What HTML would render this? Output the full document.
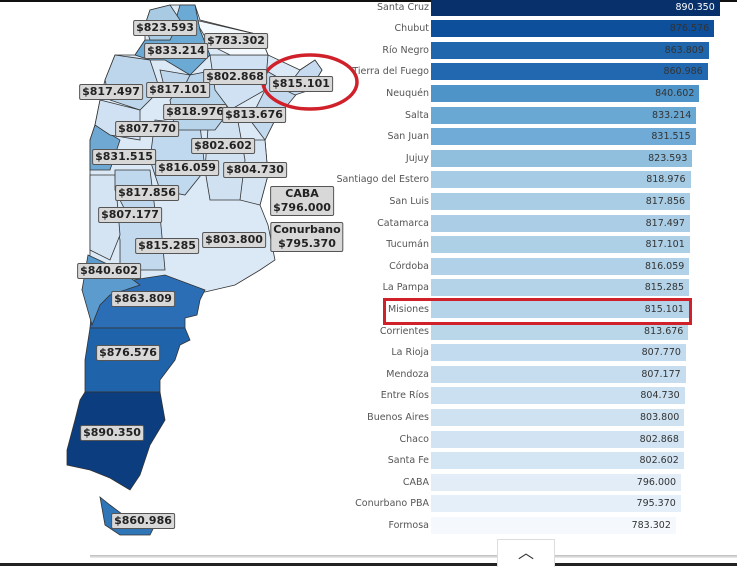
<!DOCTYPE html>
<html><head><meta charset="utf-8"><style>
body{margin:0;width:737px;height:566px;overflow:hidden;background:#fff;font-family:"DejaVu Sans","Liberation Sans",sans-serif;position:relative}
.lb{position:absolute;background:#d8d8d8;border:1.5px solid #555;border-radius:2px;font-weight:bold;font-size:11px;color:#222;padding:0 2px;line-height:14px;text-align:center;transform:translate(-50%,-50%);white-space:nowrap}
.nm{position:absolute;width:120px;text-align:right;font-size:9.5px;color:#555;line-height:17px}
.bar{position:absolute;left:431px;height:17px}
.val{position:absolute;font-size:9.5px;line-height:17px;color:#333;text-align:right}
</style></head><body>
<div style="position:absolute;left:0;top:0;width:737px;height:2px;background:#111"></div>
<svg width="737" height="566" style="position:absolute;left:0;top:0" stroke="#333" stroke-width="0.8">
<polygon fill="#dbe9f6" points="150,10 170,5 195,5 200,20 260,35 268,55 300,70 315,60 322,70 310,90 285,95 275,120 265,140 268,175 260,205 268,225 275,260 260,270 235,285 205,292 90,292 82,290 90,255 90,175 90,140 95,125 100,100 105,80 115,55 135,55 145,40 145,25"/>
<polygon fill="#c3d9ee" points="115,215 160,215 165,270 120,270 120,240"/>
<polygon fill="#d4e4f3" points="90,175 115,175 120,235 110,260 90,250"/>
<polygon fill="#bfd8ed" points="115,170 150,170 155,210 125,210 115,190"/>
<polygon fill="#d5e5f4" points="240,140 265,140 268,175 260,205 240,200"/>
<polygon fill="#d0e1f2" points="210,100 235,105 245,160 240,200 210,200 205,170"/>
<polygon fill="#c1d9ee" points="155,120 200,125 205,170 185,195 160,190 150,160"/>
<polygon fill="#6fa9d3" points="95,125 120,140 110,170 90,170 90,140"/>
<polygon fill="#cfe1f2" points="100,100 140,110 140,140 110,135 95,125"/>
<polygon fill="#b8d4ea" points="190,75 215,70 230,110 215,130 175,130 170,100"/>
<polygon fill="#bdd6ec" points="160,70 190,75 180,95 165,90"/>
<polygon fill="#bdd6ec" points="115,55 150,60 160,90 140,110 110,100 105,80"/>
<polygon fill="#c3d9ee" points="265,70 300,90 275,120 265,140 250,120 265,90"/>
<polygon fill="#c6dbef" points="300,70 315,60 322,70 310,90 295,95 285,90"/>
<polygon fill="#cfe1f2" points="210,55 268,55 265,90 230,110 215,90"/>
<polygon fill="#f4f9fe" points="195,20 260,35 268,55 230,55 210,45"/>
<polygon fill="#6aaad5" points="180,5 195,5 200,30 210,55 190,75 165,60 150,60 135,55 145,40 170,40"/>
<polygon fill="#a8cbe3" points="150,10 170,5 180,20 170,40 150,40 145,25"/>
<polygon fill="#2b6eb5" points="100,285 165,275 205,290 200,300 197,315 185,318 185,328 90,328 92,305"/>
<polygon fill="#5b9bcd" points="88,255 120,270 140,285 110,295 100,305 92,325 82,290"/>
<polygon fill="#1f63ab" points="90,328 185,328 190,340 180,345 175,360 160,380 160,392 85,392 85,360"/>
<polygon fill="#0b3d7f" points="85,392 160,392 165,420 150,445 140,475 130,490 110,478 90,470 67,465 67,450 75,420 80,400"/>
<polygon fill="#2f76b9" points="100,497 110,505 130,520 155,525 150,535 120,535 105,525"/>
<ellipse cx="310" cy="82" rx="47" ry="27" fill="none" stroke="#d0202a" stroke-width="3.5"/>
</svg>
<div class="lb" style="left:165px;top:28px">$823.593</div>
<div class="lb" style="left:236px;top:41px">$783.302</div>
<div class="lb" style="left:176px;top:51px">$833.214</div>
<div class="lb" style="left:235px;top:77px">$802.868</div>
<div class="lb" style="left:301px;top:84px">$815.101</div>
<div class="lb" style="left:111px;top:92px">$817.497</div>
<div class="lb" style="left:178px;top:90px">$817.101</div>
<div class="lb" style="left:195px;top:112px">$818.976</div>
<div class="lb" style="left:254px;top:115px">$813.676</div>
<div class="lb" style="left:147px;top:129px">$807.770</div>
<div class="lb" style="left:223px;top:146px">$802.602</div>
<div class="lb" style="left:124px;top:157px">$831.515</div>
<div class="lb" style="left:187px;top:168px">$816.059</div>
<div class="lb" style="left:255px;top:170px">$804.730</div>
<div class="lb" style="left:147px;top:193px">$817.856</div>
<div class="lb" style="left:302px;top:201px">CABA<br>$796.000</div>
<div class="lb" style="left:130px;top:215px">$807.177</div>
<div class="lb" style="left:307px;top:237px">Conurbano<br>$795.370</div>
<div class="lb" style="left:167px;top:246px">$815.285</div>
<div class="lb" style="left:234px;top:240px">$803.800</div>
<div class="lb" style="left:109px;top:271px">$840.602</div>
<div class="lb" style="left:143px;top:299px">$863.809</div>
<div class="lb" style="left:128px;top:353px">$876.576</div>
<div class="lb" style="left:112px;top:433px">$890.350</div>
<div class="lb" style="left:143px;top:521px">$860.986</div>
<div id="bars"></div>
<div style="position:absolute;left:383px;top:298px;width:303px;height:21px;border:3px solid #d0202a"></div>
<div style="position:absolute;left:90px;top:555px;width:647px;height:3px;background:linear-gradient(#bbb,#eee)"></div>
<div style="position:absolute;left:0;top:563px;width:737px;height:3px;background:#222"></div>
<div style="position:absolute;left:497px;top:539px;width:56px;height:27px;background:#fff;border:1px solid #ddd;border-bottom:none;text-align:center;font-size:16px;line-height:26px;color:#333">︿</div>
<script>
var d=[["Santa Cruz",890.350,"#08306b"],["Chubut",876.576,"#0d4f9a"],["Río Negro",863.809,"#1f66ad"],["Tierra del Fuego",860.986,"#2268b0"],["Neuquén",840.602,"#4f94c8"],["Salta",833.214,"#6aa8d4"],["San Juan",831.515,"#6fabd6"],["Jujuy",823.593,"#90bfde"],["Santiago del Estero",818.976,"#a6cbe4"],["San Luis",817.856,"#a9cde5"],["Catamarca",817.497,"#abcee6"],["Tucumán",817.101,"#add0e7"],["Córdoba",816.059,"#b0d1e7"],["La Pampa",815.285,"#b4d3e8"],["Misiones",815.101,"#b6d4e9"],["Corrientes",813.676,"#bad7ea"],["La Rioja",807.770,"#c3dbee"],["Mendoza",807.177,"#c5ddef"],["Entre Ríos",804.730,"#cbe0f1"],["Buenos Aires",803.800,"#cfe2f2"],["Chaco",802.868,"#d2e4f3"],["Santa Fe",802.602,"#d4e5f4"],["CABA",796.000,"#e2edf8"],["Conurbano PBA",795.370,"#e5eff9"],["Formosa",783.302,"#f5f9fe"]];
var h="";d.forEach(function(r,i){var y=7+i*21.6-8.5;var w=(r[1]-186)*0.41;
h+='<div class="nm" style="top:'+y+'px;left:309px">'+r[0]+'</div>';
h+='<div class="bar" style="top:'+y+'px;width:'+w+'px;background:'+r[2]+'"></div>';
h+='<div class="val" style="top:'+y+'px;left:431px;width:'+(w-5)+'px;color:'+(i==0?"#fff":"#333")+'">'+r[1].toFixed(3)+'</div>';});
document.getElementById("bars").innerHTML=h;
</script>
</body></html>
